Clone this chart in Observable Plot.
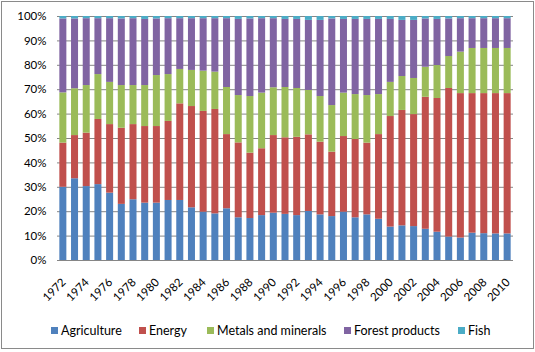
<!DOCTYPE html>
<html><head><meta charset="utf-8">
<script src="https://cdn.jsdelivr.net/npm/d3@7"></script>
<script src="https://cdn.jsdelivr.net/npm/@observablehq/plot@0.6"></script>
<style>
body{margin:0;background:#fff;font-family:Lato,sans-serif;}
#wrap{position:relative;width:535px;height:352px;overflow:hidden;background:#fff;}
#frame{position:absolute;left:1px;top:1px;width:531px;height:346px;border:1px solid #8a8a8a;}
#chart{position:absolute;left:0;top:0;width:535px;}
.leg{position:absolute;top:323px;font-size:12.5px;color:#000;line-height:15px;white-space:nowrap;}
.sw{position:absolute;top:327px;width:7px;height:7px;}
</style></head><body>
<div id="wrap"><div id="frame"></div><div id="chart"></div><div id="legend"></div></div>
<script>
const years = [1972,1973,1974,1975,1976,1977,1978,1979,1980,1981,1982,1983,1984,1985,1986,1987,1988,1989,1990,1991,1992,1993,1994,1995,1996,1997,1998,1999,2000,2001,2002,2003,2004,2005,2006,2007,2008,2009,2010];
const labelYears = [1972,1974,1976,1978,1980,1982,1984,1986,1988,1990,1992,1994,1996,1998,2000,2002,2004,2006,2008,2010];
const yTicks = [0,0.1,0.2,0.3,0.4,0.5,0.6,0.7,0.8,0.9,1];
const series = ["Agriculture","Energy","Metals and minerals","Forest products","Fish"];
const colors = ["#4F81BD","#C0504D","#9BBB59","#8064A2","#4BACC6"];

const agriculture = [30.0,33.5,30.3,31.1,27.6,23.0,24.9,23.5,23.5,24.6,24.6,21.6,19.8,19.1,21.2,17.5,17.2,18.4,19.4,18.9,18.4,20.1,18.7,18.0,19.8,17.5,18.7,16.9,13.7,14.2,13.9,12.8,11.6,9.6,9.2,11.2,11.0,10.9,10.9];
const energy = [18.1,17.7,21.9,26.7,28.1,31.2,30.8,31.4,31.4,32.4,39.6,41.5,41.3,42.8,30.4,30.7,26.8,27.4,31.8,31.4,32.1,31.4,29.8,26.4,31.0,32.1,29.4,34.7,45.3,47.3,45.9,54.1,54.8,60.9,59.2,57.2,57.4,57.5,57.5];
const metals = [20.6,19.2,19.5,18.4,17.3,17.5,16.0,16.8,20.9,19.2,14.1,14.8,16.5,15.3,19.3,19.4,23.2,22.8,19.6,20.6,20.0,18.2,18.7,19.1,17.8,18.4,19.5,16.4,14.0,13.9,14.8,12.3,13.5,13.1,17.0,18.5,18.5,18.5,18.5];
const forest = [30.3,28.6,27.4,22.9,26.1,27.3,27.4,27.1,23.2,22.9,20.8,21.2,21.5,21.9,28.2,31.2,31.8,30.5,28.3,27.9,28.3,28.7,31.2,35.5,30.2,30.8,31.2,30.8,25.8,23.0,23.8,19.8,18.9,15.4,13.7,12.2,12.2,12.2,12.2];
const fish = [1.0,1.0,0.9,0.9,0.9,1.0,0.9,1.2,1.0,0.9,0.9,0.9,0.9,0.9,0.9,1.2,1.0,0.9,0.9,1.2,1.2,1.6,1.6,1.0,1.2,1.2,1.2,1.2,1.2,1.6,1.6,1.0,1.2,1.0,0.9,0.9,0.9,0.9,0.9];

const valuesBySeries = [agriculture, energy, metals, forest, fish];
const data = [];
series.forEach((s, k) => years.forEach((yr, i) => data.push({year: yr, series: s, value: valuesBySeries[k][i]})));

const plot = Plot.plot({
  width: 535, height: 310,
  marginLeft: 57, marginRight: 22, marginTop: 16, marginBottom: 50,
  style: {fontFamily: "Lato, sans-serif", fontSize: "11.5px", color: "#000", background: "transparent", overflow: "visible", maxWidth: "none"},
  x: {type: "band", domain: years, paddingInner: 0.4, paddingOuter: 0.2, round: false, label: null, axis: null},
  y: {domain: [0, 1], label: null},
  color: {domain: series, range: colors},
  marks: [
    Plot.ruleY(yTicks, {stroke: "#868686", strokeWidth: 1}),
    Plot.barY(data, {x: "year", y: "value", fill: "series", order: series, offset: "normalize"}),
    Plot.axisY({ticks: yTicks, tickFormat: d3.format(".0%"), tickSize: 0, tickPadding: 11, label: null}),
    Plot.text(labelYears, {x: d => d, text: d => String(d), frameAnchor: "bottom", rotate: -45, textAnchor: "end", lineAnchor: "middle", dx: 0.5, dy: 20, fontSize: 11.5, fill: "#000"})
  ]
});
document.getElementById("chart").appendChild(plot);

const legendX = [51, 139, 207, 344, 458];
const legend = document.getElementById("legend");
series.forEach((s, k) => {
  const sw = document.createElement("div");
  sw.className = "sw"; sw.style.left = legendX[k] + "px"; sw.style.background = colors[k];
  legend.appendChild(sw);
  const t = document.createElement("div");
  t.className = "leg"; t.style.left = (legendX[k] + 10) + "px"; t.textContent = s;
  legend.appendChild(t);
});
</script>
</body></html>
